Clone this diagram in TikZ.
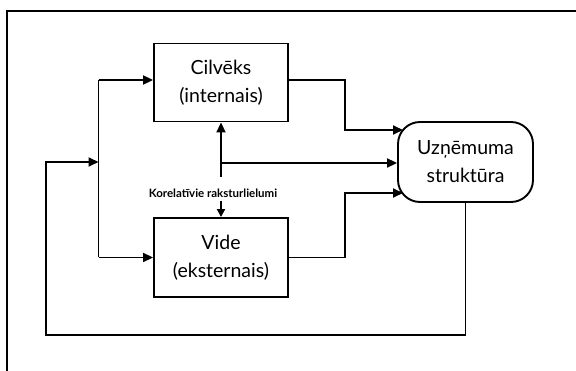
\documentclass[tikz,border=0pt]{standalone}
\usepackage{fontspec}
\setmainfont{Lato}
\usetikzlibrary{arrows.meta}
\begin{document}
\begin{tikzpicture}[x=1pt,y=-1pt,
  line/.style={line width=1.9pt},
  arr/.style={line, -{Triangle[length=10pt,width=9pt]}},
  box/.style={draw, line width=1.9pt, minimum width=134pt, inner sep=0pt,
    align=center, font=\fontsize{19.5}{28}\selectfont},
  lbl/.style={inner sep=0pt, font=\bfseries\fontsize{11.5}{13}\selectfont}]
\useasboundingbox (0,0) rectangle (576,371);
% outer frame (top and left edges)
\draw[line] (7,371) -- (7,11) -- (576,11);

% blocks
\node[box, minimum height=78pt] (cil) at (221,82.5) {Cilvēks\\(internais)};
\node[box, minimum height=79pt] (vide) at (221,257.5) {Vide\\(eksternais)};
\node[box, minimum width=135pt, minimum height=80pt, rounded corners=22pt]
  (uzn) at (465.5,162) {Uzņēmuma\\struktūra};
\node[lbl] (kor) at (213,193) {Korelatīvie raksturlielumi};

% junctions
\coordinate (tTop) at (98.5,80);
\coordinate (tMid) at (98.5,162);
\coordinate (tBot) at (98.5,257.5);
\coordinate (fb) at (46,335);
\coordinate (cBend) at (345,80);
\coordinate (vBend) at (345,257.5);
\coordinate (uIn1) at (403,130);
\coordinate (uIn3) at (403,193);
\coordinate (mBase) at (221,177);
\coordinate (mJoin) at (221,163);

% distribution trunk
\draw[line] (tTop) -- (tBot);
\draw[arr] (tTop) -- (tTop -| cil.west);
\draw[arr] (tBot) -- (tBot -| vide.west);

% feedback loop
\draw[arr] (uzn.south) |- (fb) |- (tMid);

% outputs into the structure block
\draw[arr] (cBend -| cil.east) -- (cBend) |- (uIn1);
\draw[arr] (vBend -| vide.east) -- (vBend) |- (uIn3);
\draw[arr] (mBase) -- (cil.south);
\draw[arr] (mJoin) -- (mJoin -| uzn.west);
\draw[line, -{Triangle[length=8pt,width=8pt]}] (kor.south -| vide.north) ++(0,3) -- (vide.north);
\end{tikzpicture}
\end{document}
